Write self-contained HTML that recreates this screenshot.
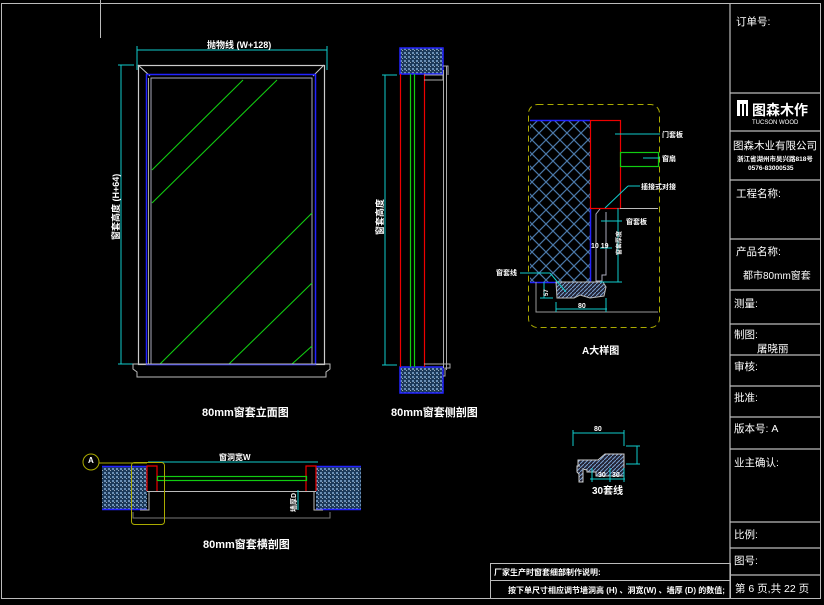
<!DOCTYPE html>
<html><head><meta charset="utf-8"><style>
html,body{margin:0;padding:0;background:#000;}
svg{display:block}
text{font-family:"Liberation Sans","Noto Sans CJK SC",sans-serif;fill:#fff}
</style></head><body>
<svg width="824" height="605" viewBox="0 0 824 605" xmlns="http://www.w3.org/2000/svg">
<defs>
<pattern id="dots" width="4" height="4" patternUnits="userSpaceOnUse">
<rect width="4" height="4" fill="#1d3a5a"/><rect x="0" y="0" width="2" height="2" fill="#6a8fb5"/><rect x="2" y="2" width="1" height="1" fill="#9ab"/>
</pattern>
<pattern id="cross" width="14" height="14" patternUnits="userSpaceOnUse">
<path d="M0 14L14 0M0 0L14 14" stroke="#4a78a8" stroke-width="1.2"/>
</pattern>
<pattern id="hatch" width="4" height="4" patternUnits="userSpaceOnUse">
<rect width="4" height="4" fill="#223"/><path d="M0 4L4 0" stroke="#7aa0d0" stroke-width="1"/>
</pattern>
</defs>
<rect width="824" height="605" fill="#000"/>
<rect x="1.5" y="3.5" width="819" height="595" fill="none" stroke="#bbb" stroke-width="1"/>
<line x1="100.5" y1="0" x2="100.5" y2="38" stroke="#bbb"/>
<g stroke="#bbb" stroke-width="1.2" fill="none">
<line x1="730" y1="3" x2="730" y2="598"/>
<line x1="730" y1="93" x2="820" y2="93"/><line x1="730" y1="131" x2="820" y2="131"/>
<line x1="730" y1="180" x2="820" y2="180"/><line x1="730" y1="239" x2="820" y2="239"/>
<line x1="730" y1="290" x2="820" y2="290"/><line x1="730" y1="324" x2="820" y2="324"/>
<line x1="730" y1="355" x2="820" y2="355"/><line x1="730" y1="386" x2="820" y2="386"/>
<line x1="730" y1="417" x2="820" y2="417"/><line x1="730" y1="449" x2="820" y2="449"/>
<line x1="730" y1="522" x2="820" y2="522"/><line x1="730" y1="548" x2="820" y2="548"/>
<line x1="730" y1="575" x2="820" y2="575"/>
</g>
<g font-size="10.5">
<text x="736" y="25">订单号:</text>
<text x="733" y="149" font-size="10.5">图森木业有限公司</text>
<text x="737" y="161" font-size="6.5" font-weight="bold">浙江省湖州市吴兴路818号</text>
<text x="748" y="170" font-size="6.5" font-weight="bold">0576-83000535</text>
<text x="736" y="197">工程名称:</text>
<text x="736" y="255">产品名称:</text>
<text x="743" y="279" font-size="10">都市80mm窗套</text>
<text x="734" y="307">测量:</text>
<text x="734" y="338">制图:</text>
<text x="757" y="352">屠晓丽</text>
<text x="734" y="370">审核:</text>
<text x="734" y="401">批准:</text>
<text x="734" y="432">版本号: A</text>
<text x="734" y="466">业主确认:</text>
<text x="734" y="538">比例:</text>
<text x="734" y="564">图号:</text>
<text x="735" y="592">第 6 页,共 22 页</text>
</g>
<rect x="737" y="100" width="11" height="16" fill="#fff"/><rect x="740" y="104" width="2" height="12" fill="#000"/><rect x="744" y="104" width="2" height="12" fill="#000"/>
<text x="752" y="115" font-size="14" font-weight="bold">图森木作</text>
<text x="752" y="124" font-size="6">TUCSON WOOD</text>

<g fill="none">
<line x1="137" y1="50" x2="327" y2="50" stroke="#1cc" />
<line x1="137" y1="46" x2="137" y2="70" stroke="#1cc"/><line x1="327" y1="46" x2="327" y2="70" stroke="#1cc"/>
<line x1="121" y1="65" x2="121" y2="364" stroke="#1cc"/>
<line x1="118" y1="65" x2="134" y2="65" stroke="#1cc"/><line x1="118" y1="364" x2="134" y2="364" stroke="#1cc"/>
<rect x="138.5" y="65.5" width="186" height="299" stroke="#ccc" stroke-width="1.2"/>
<line x1="138" y1="65" x2="150" y2="76" stroke="#ccc"/><line x1="324" y1="65" x2="313" y2="76" stroke="#ccc"/>
<rect x="146.5" y="74.5" width="169" height="290" stroke="#22f" stroke-width="1.5"/>
<rect x="151" y="78" width="161" height="286" stroke="#aab"/>
<line x1="148.5" y1="78" x2="148.5" y2="364" stroke="#aa8"/>
<g stroke="#1c1" stroke-width="1.1">
<line x1="243" y1="80" x2="152" y2="170"/><line x1="277" y1="80" x2="152" y2="203"/>
<line x1="312" y1="213" x2="160" y2="364"/><line x1="312" y1="283" x2="229" y2="364"/><line x1="312" y1="346" x2="292" y2="364"/>
</g>
<path d="M133 364H330V369L326 372V377H137V372L133 369Z" stroke="#bbb"/>
</g>
<text x="207" y="48" font-size="9" font-weight="bold">抛物线 (W+128)</text>
<text transform="translate(119,240) rotate(-90)" font-size="9" font-weight="bold">窗套高度 (H+64)</text>
<text x="202" y="416" font-size="11" font-weight="bold">80mm窗套立面图</text>

<rect x="400" y="48" width="43" height="26" fill="url(#dots)" stroke="#22f" stroke-width="1.5"/>
<rect x="400" y="367" width="43" height="26" fill="url(#dots)" stroke="#22f" stroke-width="1.5"/>
<g fill="none">
<line x1="400.5" y1="74" x2="400.5" y2="367" stroke="#e00" stroke-width="1.2"/>
<line x1="424.5" y1="74" x2="424.5" y2="367" stroke="#e00" stroke-width="1.2"/>
<line x1="410.5" y1="74" x2="410.5" y2="367" stroke="#1c1" stroke-width="1.2"/>
<line x1="414.5" y1="74" x2="414.5" y2="367" stroke="#1c1" stroke-width="1.2"/>
<line x1="443.5" y1="70" x2="443.5" y2="368" stroke="#aaa"/>
<line x1="446.5" y1="66" x2="446.5" y2="370" stroke="#aaa"/>
<path d="M424 75H443V80H424M443 66H448V75" stroke="#aaa"/>
<path d="M424 364H450V368H445V376H443" stroke="#aaa"/>
<line x1="385" y1="75" x2="385" y2="365" stroke="#1cc"/>
<line x1="382" y1="75" x2="397" y2="75" stroke="#1cc"/><line x1="382" y1="365" x2="397" y2="365" stroke="#1cc"/>
</g>
<text transform="translate(383,235) rotate(-90)" font-size="9" font-weight="bold">窗套高度</text>
<text x="391" y="416" font-size="11" font-weight="bold">80mm窗套侧剖图</text>

<rect x="528.5" y="104.5" width="131" height="223" rx="9" fill="none" stroke="#aa0" stroke-dasharray="6,4"/>
<rect x="530" y="120" width="60" height="162" fill="url(#cross)"/>
<line x1="530" y1="120.5" x2="590" y2="120.5" stroke="#22f" stroke-width="1.5"/>
<line x1="530" y1="282.5" x2="556" y2="282.5" stroke="#22f" stroke-width="1.5"/>
<line x1="590.5" y1="208" x2="590.5" y2="282" stroke="#22f" stroke-width="1.5"/>
<rect x="590.5" y="120.5" width="30" height="88" fill="none" stroke="#e00" stroke-width="1.2"/>
<rect x="620.5" y="152.5" width="38" height="14" fill="none" stroke="#1c1" stroke-width="1.2"/>
<line x1="620" y1="208.5" x2="658" y2="208.5" stroke="#bbb"/>
<path d="M556 282H603L606 287L604 296L590 298L580 295L574 298H557Z" fill="url(#hatch)" stroke="#bbb"/>
<path d="M600 209L596 214V281H602V275H606V212" fill="none" stroke="#aab"/>
<path d="M536 282V312H658" fill="none" stroke="#999"/>
<g stroke="#1cc" fill="none">
<line x1="615" y1="134" x2="660" y2="134"/><line x1="643" y1="158" x2="660" y2="158"/>
<line x1="605" y1="208" x2="628" y2="186"/><line x1="628" y1="186" x2="640" y2="186"/>
<line x1="601" y1="221" x2="622" y2="221"/><line x1="520" y1="273" x2="550" y2="273"/><line x1="550" y1="273" x2="566" y2="292"/>
<line x1="556" y1="309" x2="607" y2="309"/><line x1="556" y1="302" x2="556" y2="312"/><line x1="606" y1="298" x2="606" y2="312"/>
<line x1="544" y1="282" x2="544" y2="298"/><line x1="540" y1="298" x2="553" y2="298"/>
<line x1="600" y1="248" x2="612" y2="248"/><line x1="618" y1="208" x2="618" y2="282"/>
<line x1="600" y1="282" x2="622" y2="282"/>
</g>
<g font-size="7" font-weight="bold">
<text x="662" y="137">门套板</text><text x="662" y="161">窗扇</text>
<text x="641" y="189">插接式对接</text><text x="626" y="224">窗套板</text>
<text x="496" y="275">窗套线</text><text x="578" y="308">80</text>
<text x="591" y="248">10 19</text>
</g>
<text transform="translate(548,296) rotate(-90)" font-size="6" font-weight="bold">57</text>
<text transform="translate(621,255) rotate(-90)" font-size="6" font-weight="bold">窗套厚度</text>
<text x="582" y="354" font-size="10" font-weight="bold">A大样图</text>

<path d="M578 460H598L605 454H624V476H596V472H587V470L578 468Z" fill="url(#hatch)" stroke="#ccc"/>
<path d="M580 466H577V472L579 474V482H583V470" fill="url(#hatch)" stroke="#ccc"/>
<g stroke="#1cc" fill="none">
<line x1="573" y1="433" x2="624" y2="433"/><line x1="573" y1="430" x2="573" y2="446"/><line x1="624" y1="430" x2="624" y2="446"/>
<line x1="637" y1="446" x2="637" y2="464"/><line x1="626" y1="446" x2="640" y2="446"/><line x1="626" y1="464" x2="640" y2="464"/>
<line x1="590" y1="479" x2="625" y2="479"/><line x1="592" y1="468" x2="592" y2="482"/><line x1="610" y1="468" x2="610" y2="482"/><line x1="624" y1="468" x2="624" y2="482"/>
</g>
<text x="594" y="431" font-size="7" font-weight="bold">80</text>
<text x="598" y="477" font-size="7" font-weight="bold">30</text><text x="612" y="477" font-size="7" font-weight="bold">30</text>
<text x="592" y="494" font-size="10" font-weight="bold">30套线</text>

<rect x="102" y="466" width="45" height="43" fill="url(#dots)"/>
<line x1="102" y1="466.5" x2="147" y2="466.5" stroke="#22f" stroke-width="1.5"/><line x1="102" y1="509.5" x2="147" y2="509.5" stroke="#22f" stroke-width="1.5"/>
<rect x="316" y="466" width="45" height="43" fill="url(#dots)"/>
<line x1="316" y1="466.5" x2="361" y2="466.5" stroke="#22f" stroke-width="1.5"/><line x1="316" y1="509.5" x2="361" y2="509.5" stroke="#22f" stroke-width="1.5"/>
<g fill="none">
<line x1="148" y1="462" x2="318" y2="462" stroke="#1cc"/>
<path d="M147 491V466H157V491M316 491V466H306V491" stroke="#e00" stroke-width="1.2"/>
<rect x="157.5" y="476.5" width="149" height="4" stroke="#1c1" stroke-width="1.2"/>
<line x1="147" y1="491.5" x2="316" y2="491.5" stroke="#bbb"/>
<path d="M149 491V510H140M314 491V510H323" stroke="#bbb"/>
<path d="M133 512V518H330V512" stroke="#777"/>
<rect x="131.5" y="462.5" width="33" height="62" rx="3" stroke="#aa0"/>
<circle cx="91" cy="462" r="8" stroke="#aa0"/>
<line x1="99" y1="463" x2="147" y2="463" stroke="#aa0"/>
<line x1="298" y1="490" x2="298" y2="510" stroke="#1cc"/>
</g>
<text x="88" y="463" font-size="8" font-weight="bold">A</text>
<text x="219" y="460" font-size="8" font-weight="bold">窗洞宽W</text>
<text transform="translate(296,512) rotate(-90)" font-size="7" font-weight="bold">墙厚D</text>
<text x="203" y="548" font-size="11" font-weight="bold">80mm窗套横剖图</text>

<rect x="490.5" y="563.5" width="240" height="35" fill="none" stroke="#bbb"/>
<line x1="490" y1="580.5" x2="730" y2="580.5" stroke="#bbb"/>
<text x="494" y="575" font-size="8" font-weight="bold">厂家生产时窗套细部制作说明:</text>
<text x="508" y="593" font-size="8" font-weight="bold">按下单尺寸相应调节墙洞高 (H) 、洞宽(W) 、墙厚 (D) 的数值;</text>
</svg>
</body></html>
